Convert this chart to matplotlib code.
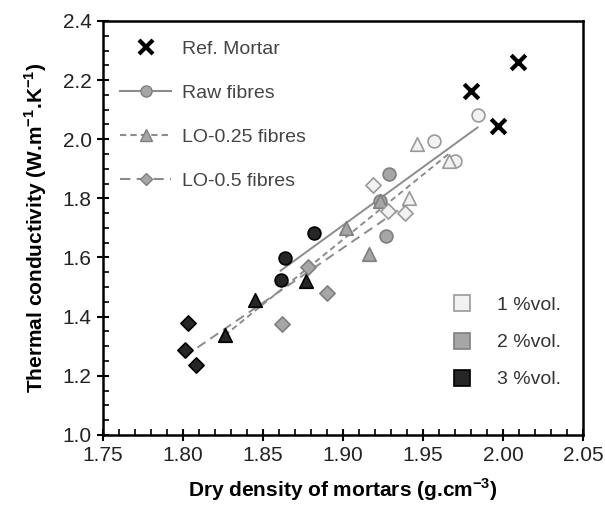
import numpy as np
import matplotlib
matplotlib.use("Agg")
import matplotlib.pyplot as plt
from matplotlib.lines import Line2D

plt.rcParams['font.family'] = ['Liberation Sans', 'DejaVu Sans']
plt.rcParams['mathtext.fontset'] = 'custom'
plt.rcParams['mathtext.rm'] = 'Liberation Sans'
plt.rcParams['mathtext.bf'] = 'Liberation Sans:bold'

# reference mortar
ref_x = [1.980, 1.997, 2.009]
ref_y = [2.163, 2.045, 2.261]

# each fibre type: three points per content (1, 2, 3 %vol.)
raw_x = [1.984, 1.957, 1.970, 1.929, 1.923, 1.927, 1.882, 1.864, 1.861]
raw_y = [2.082, 1.994, 1.927, 1.883, 1.792, 1.673, 1.684, 1.597, 1.524]
lo25_x = [1.946, 1.966, 1.941, 1.923, 1.902, 1.916, 1.877, 1.845, 1.826]
lo25_y = [1.984, 1.927, 1.802, 1.792, 1.699, 1.612, 1.522, 1.456, 1.338]
lo50_x = [1.919, 1.928, 1.939, 1.878, 1.890, 1.862, 1.803, 1.801, 1.808]
lo50_y = [1.845, 1.758, 1.752, 1.569, 1.479, 1.375, 1.380, 1.287, 1.237]
content = [1, 1, 1, 2, 2, 2, 3, 3, 3]

face = {1: '#f2f2f2', 2: '#a6a6a6', 3: '#262626'}
edge = {1: '#9a9a9a', 2: '#7f7f7f', 3: '#000000'}
vol_labels = ['1 %vol.', '2 %vol.', '3 %vol.']

fig = plt.figure(figsize=(6.05, 5.11), dpi=100)
ax = fig.add_axes([0.170, 0.149, 0.794, 0.810])

line_col = '#8c8c8c'
series = [
    (raw_x, raw_y, 'o', '-', 'Raw fibres'),
    (lo25_x, lo25_y, '^', (0, (3, 2)), 'LO-0.25 fibres'),
    (lo50_x, lo50_y, 'D', (0, (5, 3)), 'LO-0.5 fibres'),
]

for xs, ys, mk, ls, lab in series:
    xs = np.array(xs)
    ys = np.array(ys)
    a, b = np.polyfit(xs, ys, 1)
    xl = np.array([xs.min(), xs.max()])
    ax.plot(xl, a * xl + b, color=line_col, lw=1.4, ls=ls, zorder=2)
    ms = 85 if mk == 'o' else (95 if mk == '^' else 60)
    for x, y, c in zip(xs, ys, content):
        ax.scatter(x, y, marker=mk, s=ms, facecolor=face[c], edgecolor=edge[c],
                   linewidth=1.2, zorder=3)

ax.scatter(ref_x, ref_y, marker='x', s=110, color='black', linewidth=3, zorder=4)

ax.set_xlim(1.75, 2.05)
ax.set_ylim(1.0, 2.4)
ax.set_xticks(np.arange(1.75, 2.051, 0.05))
ax.set_yticks(np.arange(1.0, 2.41, 0.2))
ax.set_xticks(np.arange(1.75, 2.051, 0.01), minor=True)
ax.set_yticks(np.arange(1.0, 2.41, 0.05), minor=True)
ax.xaxis.set_major_formatter(plt.FormatStrFormatter('%.2f'))
ax.yaxis.set_major_formatter(plt.FormatStrFormatter('%.1f'))
ax.tick_params(which='major', direction='inout', length=9, width=1.5,
               labelsize=15, colors='black', labelcolor='#222222')
ax.tick_params(which='minor', direction='in', length=4, width=1.2)
for sp in ax.spines.values():
    sp.set_linewidth(1.8)

ax.set_xlabel(r'Dry density of mortars (g.cm$^{\mathbf{-3}}$)', fontsize=15,
              fontweight='bold', labelpad=8)
ax.set_ylabel(r'Thermal conductivity (W.m$^{\mathbf{-1}}$.K$^{\mathbf{-1}}$)',
              fontsize=15, fontweight='bold', labelpad=10)

h1 = [
    Line2D([], [], marker='x', ls='none', color='black', ms=10, mew=3),
    Line2D([], [], marker='o', ls='-', color=line_col, mfc='#a6a6a6', mec='#7f7f7f', ms=8),
    Line2D([], [], marker='^', ls=(0, (3, 2)), color=line_col, mfc='#a6a6a6', mec='#7f7f7f', ms=8),
    Line2D([], [], marker='D', ls=(0, (5, 3)), color=line_col, mfc='#a6a6a6', mec='#7f7f7f', ms=6),
]
leg1 = ax.legend(h1, ['Ref. Mortar', 'Raw fibres', 'LO-0.25 fibres', 'LO-0.5 fibres'],
                 loc='upper left', bbox_to_anchor=(0.0, 0.995), frameon=False,
                 fontsize=14, labelspacing=1.35, handlelength=2.6,
                 handletextpad=0.55, labelcolor='#444444')
ax.add_artist(leg1)

h2 = [Line2D([], [], marker='s', ls='none', mfc=face[c], mec=edge[c], ms=11, mew=1.2)
      for c in (1, 2, 3)]
ax.legend(h2, vol_labels, loc='lower right', bbox_to_anchor=(0.99, 0.07),
          frameon=False, fontsize=14, labelspacing=1.0, handletextpad=0.8,
          labelcolor='#333333')

fig.savefig('out.png', dpi=100)
